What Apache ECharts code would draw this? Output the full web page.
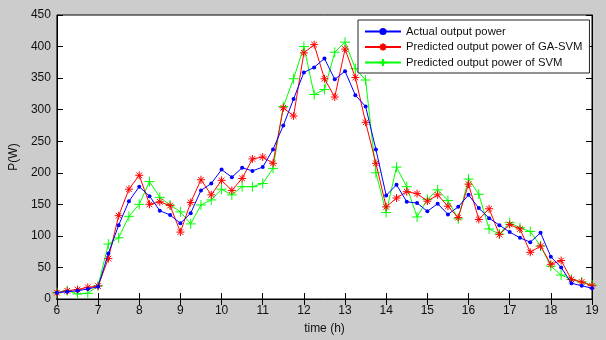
<!DOCTYPE html>
<html>
<head>
<meta charset="utf-8">
<script src="https://cdn.jsdelivr.net/npm/echarts@6/dist/echarts.min.js"></script>
<style>
  html, body { margin: 0; padding: 0; background: #cccccc; }
  #chart { width: 606px; height: 340px; }
</style>
</head>
<body>
<div id="chart"></div>
<script>
// time of day, every 15 min from 6 h to 19 h
var times = [];
for (var i = 0; i <= 52; i++) times.push(6 + i * 0.25);

var actual = [10, 11.5, 13, 16, 19.5, 72, 117, 155, 178, 163, 140, 133, 120,
  136, 172, 183, 205, 193, 208, 203, 209, 237, 275, 317, 359, 367, 381, 348, 361,
  323, 305, 237, 164, 181, 154, 152, 139, 151, 134, 146, 165, 144, 128, 117, 106,
  97, 90, 105, 67, 50, 25, 21, 17];

var gaSvm = [10, 13, 15, 18.5, 20.5, 64, 132, 174, 196, 150, 154, 148, 106,
  153, 189, 165, 188, 172, 191, 222, 225, 215, 303, 290, 390, 403, 349, 320, 396,
  351, 280, 215, 146, 160, 170, 167, 155, 165, 147, 129, 182, 126, 143, 102, 118,
  111, 74, 84, 55, 61, 31, 27, 21];

var svm = [10, 13, 8, 9, 21, 87, 97, 131, 150, 186, 161, 149, 138,
  119, 149, 157, 174, 165, 178, 178, 183, 207, 305, 349, 400, 324, 332, 391, 407,
  365, 347, 200, 137, 209, 178, 130, 158, 173, 156, 127, 190, 166, 111, 103, 121,
  113, 107, 84, 52, 38, 31, 27, 22];

var names = ["Actual output power", "Predicted output power of GA-SVM", "Predicted output power of SVM"];

function pairs(arr) {
  return arr.map(function (v, i) { return [times[i], v]; });
}

var plusPath = "path://M0 5L10 5M5 0L5 10";
var starPath = "path://M0 5L10 5M5 0L5 10M1.5 1.5L8.5 8.5M8.5 1.5L1.5 8.5";

var font = "Liberation Sans";
var axisCommon = {
  axisLine: { lineStyle: { color: "#000", width: 1 } },
  axisTick: { inside: true, length: 6, lineStyle: { color: "#000" } },
  splitLine: { show: false },
};

var chart = echarts.init(document.getElementById("chart"));
var option = {
  backgroundColor: "#cccccc",
  animation: false,
  grid: {
    left: 48, right: 14, top: 15, bottom: 33,
    show: true, backgroundColor: "#ffffff", borderColor: "#000", borderWidth: 1,
  },
  legend: {
    data: names,
    orient: "vertical",
    left: 358,
    top: 20,
    backgroundColor: "#ffffff",
    borderColor: "#222",
    borderWidth: 1,
    padding: [6, 7, 5, 6],
    itemWidth: 36,
    itemHeight: 9,
    itemGap: 4.5,
    textStyle: { fontFamily: font, fontSize: 11.3, color: "#111" },
  },
  xAxis: [
    Object.assign({
      type: "value", min: 6, max: 19, interval: 1,
      name: "time (h)", nameLocation: "middle", nameGap: 24,
      nameTextStyle: { fontFamily: font, fontSize: 12, color: "#111" },
      axisLabel: { fontFamily: font, fontSize: 12, color: "#111", margin: 6 },
    }, axisCommon),
    Object.assign({
      type: "value", min: 6, max: 19, interval: 1, position: "top",
      axisLabel: { show: false },
    }, axisCommon),
  ],
  yAxis: [
    Object.assign({
      type: "value", min: 0, max: 450, interval: 50,
      name: "P(W)", nameLocation: "middle", nameGap: 33,
      nameTextStyle: { fontFamily: font, fontSize: 12, color: "#111" },
      axisLabel: { fontFamily: font, fontSize: 12, color: "#111", margin: 6 },
    }, axisCommon),
    Object.assign({
      type: "value", min: 0, max: 450, interval: 50, position: "right",
      axisLabel: { show: false },
    }, axisCommon),
  ],
  series: [
    {
      name: names[0], type: "line", data: pairs(actual),
      color: "#0000ff",
      symbol: "circle", symbolSize: 4,
      lineStyle: { color: "#0000ff", width: 1 },
      itemStyle: { color: "#0000ff" },
      z: 3,
    },
    {
      name: names[1], type: "line", data: pairs(gaSvm),
      color: "#ff0000",
      symbol: starPath, symbolSize: 8,
      lineStyle: { color: "#ff0000", width: 1 },
      itemStyle: { color: "#ff0000", borderColor: "#ff0000", borderWidth: 1 },
      z: 2,
    },
    {
      name: names[2], type: "line", data: pairs(svm),
      color: "#00ff00",
      symbol: plusPath, symbolSize: 10,
      lineStyle: { color: "#00ff00", width: 1 },
      itemStyle: { color: "#00ff00", borderColor: "#00ff00", borderWidth: 1 },
      z: 1,
    },
  ],
};
chart.setOption(option);
</script>
</body>
</html>
